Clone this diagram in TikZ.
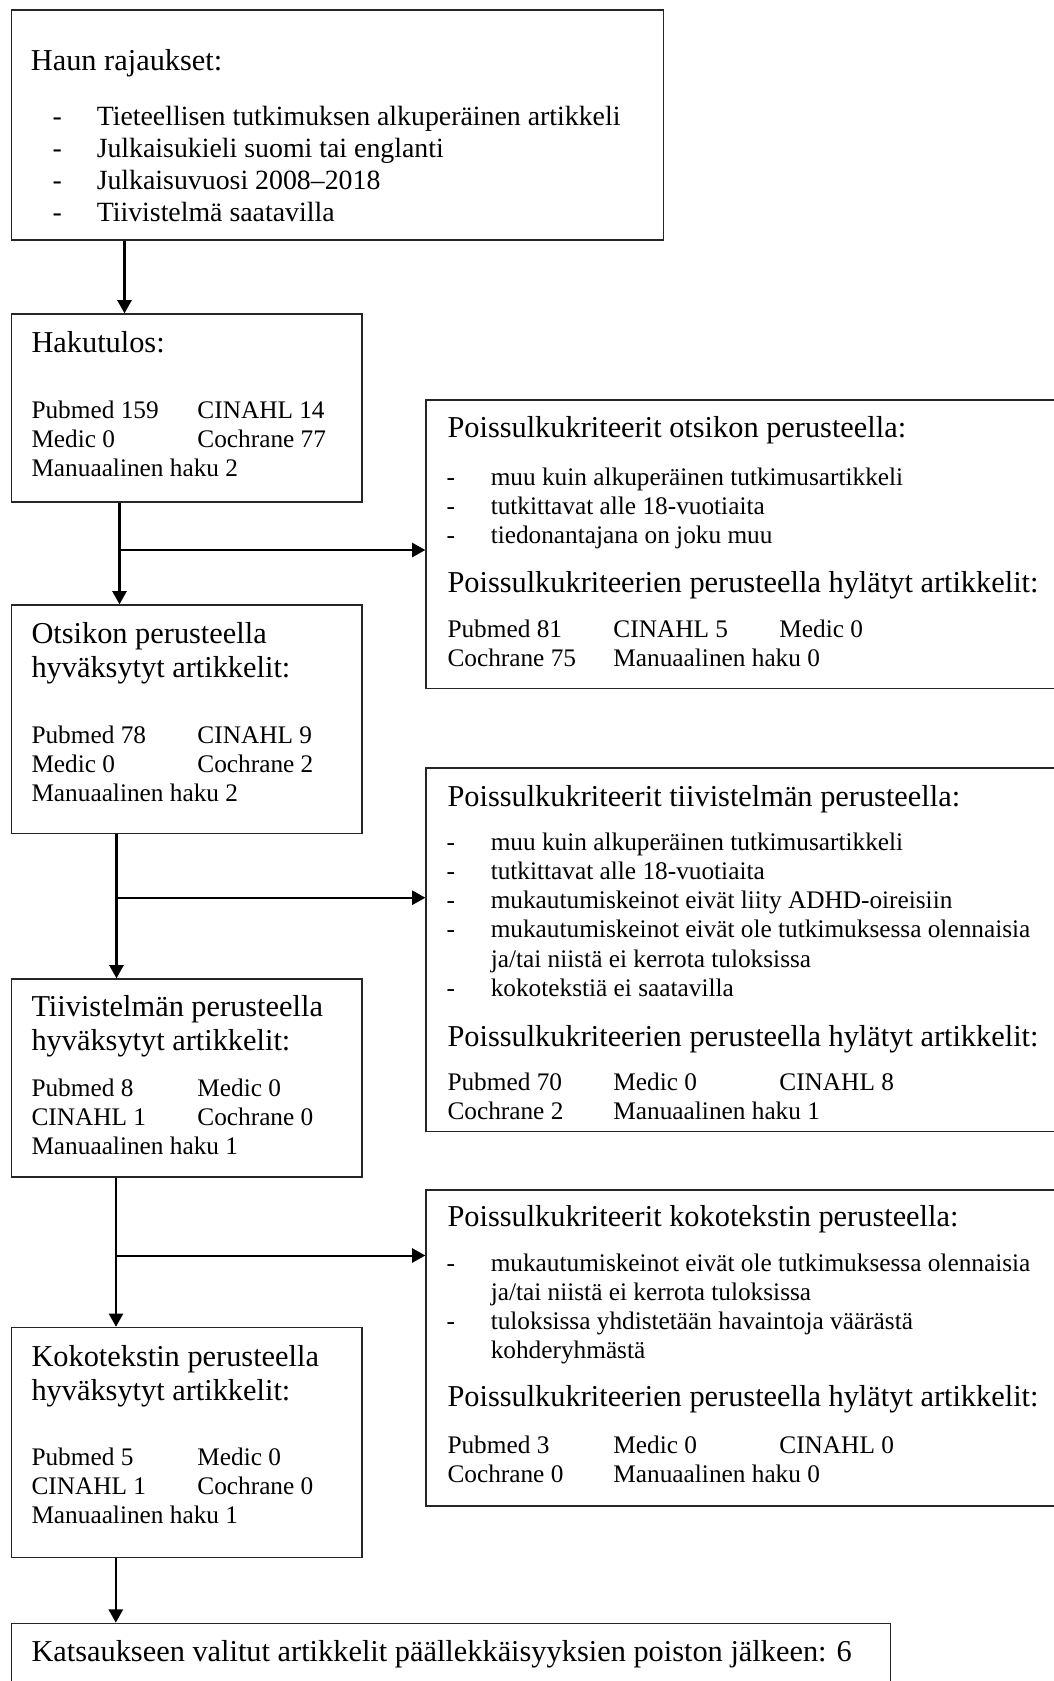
\documentclass[tikz,border=0pt]{standalone}
\usepackage{fontspec}
\setmainfont{Liberation Serif}
\usetikzlibrary{arrows.meta,fit}

\newcommand{\otsfont}{\fontsize{12}{13.5}\selectfont}
\newcommand{\listafont}{\fontsize{11}{12.7}\selectfont}
\newcommand{\datafont}{\fontsize{10}{11.5}\selectfont}
\newcommand{\kohta}[1]{\makebox[17.5pt][l]{-}#1}
\newcommand{\jatko}[1]{\hspace*{17.5pt}#1}
\newcommand{\sarake}[1]{\makebox[65.6pt][l]{#1}}
\newcommand{\rivit}[1]{\begin{tabular}[t]{@{}l@{}}#1\end{tabular}}

\begin{document}
\begin{tikzpicture}[x=0.3953pt, y=-0.3953pt,
        box/.style={draw=black!85, line width=0.55pt, inner sep=0pt},
        txt/.style={inner sep=0pt, anchor=base west},
        arr/.style={line width=0.8pt, -{Triangle[width=5.6pt,length=5.2pt]}}]
    \path[use as bounding box, fill=white] (0,0) rectangle (1054,1681);
    \clip (0,0) rectangle (1054,1681);

    % laatikot
    \node[box, fit={(11.7,10) (663.5,240)}] (haku) {};
    \node[box, fit={(11.7,314) (362,502)}] (tulos) {};
    \node[box, fit={(11.7,605) (362,833.3)}] (otsikko) {};
    \node[box, fit={(11.7,979) (362,1177)}] (tiiv) {};
    \node[box, fit={(11.7,1327.4) (362,1557.7)}] (koko) {};
    \node[box, fit={(11.7,1623.3) (890.5,1720)}] (valitut) {};
    \node[box, fit={(426,400) (1070,688.3)}] (krit1) {};
    \node[box, fit={(426,768) (1070,1131.7)}] (krit2) {};
    \node[box, fit={(426,1190) (1070,1506)}] (krit3) {};

    % vasen sarake
    \node[txt, font=\otsfont] (haku-t) at (30.4,70) {Haun rajaukset:};
    \node[txt, font=\listafont] (haku-l) at (52,125) {\rivit{\kohta{Tieteellisen tutkimuksen alkuperäinen artikkeli}\\
        \kohta{Julkaisukieli suomi tai englanti}\\
        \kohta{Julkaisuvuosi 2008–2018}\\
        \kohta{Tiivistelmä saatavilla}}};

    \node[txt, font=\otsfont] (tulos-t) at (31,352.7) {Hakutulos:};
    \node[txt, font=\datafont] (tulos-d) at (31,418.3) {\rivit{\sarake{Pubmed 159}CINAHL 14\\
        \sarake{Medic 0}Cochrane 77\\
        Manuaalinen haku 2}};

    \node[txt, font=\otsfont] (otsikko-t) at (31,643.3) {\rivit{Otsikon perusteella\\ hyväksytyt artikkelit:}};
    \node[txt, font=\datafont] (otsikko-d) at (31,743.3) {\rivit{\sarake{Pubmed 78}CINAHL 9\\
        \sarake{Medic 0}Cochrane 2\\
        Manuaalinen haku 2}};

    \node[txt, font=\otsfont] (tiiv-t) at (31,1016) {\rivit{Tiivistelmän perusteella\\ hyväksytyt artikkelit:}};
    \node[txt, font=\datafont] (tiiv-d) at (31,1096.7) {\rivit{\sarake{Pubmed 8}Medic 0\\
        \sarake{CINAHL 1}Cochrane 0\\
        Manuaalinen haku 1}};

    \node[txt, font=\otsfont] (koko-t) at (31,1366.7) {\rivit{Kokotekstin perusteella\\ hyväksytyt artikkelit:}};
    \node[txt, font=\datafont] (koko-d) at (31,1465) {\rivit{\sarake{Pubmed 5}Medic 0\\
        \sarake{CINAHL 1}Cochrane 0\\
        Manuaalinen haku 1}};

    \node[txt, font=\otsfont] (valitut-t) at (31,1661.7) {Katsaukseen valitut artikkelit päällekkäisyyksien poiston jälkeen: 6};

    % oikea sarake
    \node[txt, font=\otsfont] (krit1-t) at (447,437) {Poissulkukriteerit otsikon perusteella:};
    \node[txt, font=\datafont] (krit1-l) at (446,485) {\rivit{\kohta{muu kuin alkuperäinen tutkimusartikkeli}\\
        \kohta{tutkittavat alle 18-vuotiaita}\\
        \kohta{tiedonantajana on joku muu}}};
    \node[txt, font=\otsfont] (krit1-h) at (447,592) {Poissulkukriteerien perusteella hylätyt artikkelit:};
    \node[txt, font=\datafont] (krit1-d) at (447,637.3) {\rivit{\sarake{Pubmed 81}\sarake{CINAHL 5}Medic 0\\
        \sarake{Cochrane 75}Manuaalinen haku 0}};

    \node[txt, font=\otsfont] (krit2-t) at (447,806.7) {Poissulkukriteerit tiivistelmän perusteella:};
    \node[txt, font=\datafont] (krit2-l) at (446,850.7) {\rivit{\kohta{muu kuin alkuperäinen tutkimusartikkeli}\\
        \kohta{tutkittavat alle 18-vuotiaita}\\
        \kohta{mukautumiskeinot eivät liity ADHD-oireisiin}\\
        \kohta{mukautumiskeinot eivät ole tutkimuksessa olennaisia}\\
        \jatko{ja/tai niistä ei kerrota tuloksissa}\\
        \kohta{kokotekstiä ei saatavilla}}};
    \node[txt, font=\otsfont] (krit2-h) at (447,1046.7) {Poissulkukriteerien perusteella hylätyt artikkelit:};
    \node[txt, font=\datafont] (krit2-d) at (447,1090) {\rivit{\sarake{Pubmed 70}\sarake{Medic 0}CINAHL 8\\
        \sarake{Cochrane 2}Manuaalinen haku 1}};

    \node[txt, font=\otsfont] (krit3-t) at (447,1226.7) {Poissulkukriteerit kokotekstin perusteella:};
    \node[txt, font=\datafont] (krit3-l) at (446,1271.7) {\rivit{\kohta{mukautumiskeinot eivät ole tutkimuksessa olennaisia}\\
        \jatko{ja/tai niistä ei kerrota tuloksissa}\\
        \kohta{tuloksissa yhdistetään havaintoja väärästä}\\
        \jatko{kohderyhmästä}}};
    \node[txt, font=\otsfont] (krit3-h) at (447,1406) {Poissulkukriteerien perusteella hylätyt artikkelit:};
    \node[txt, font=\datafont] (krit3-d) at (447,1453.3) {\rivit{\sarake{Pubmed 3}\sarake{Medic 0}CINAHL 0\\
        \sarake{Cochrane 0}Manuaalinen haku 0}};

    % nuolet
    \coordinate (v1) at (124.5,275);
    \coordinate (j1) at (119.5,550);
    \coordinate (j2) at (116.5,897.7);
    \coordinate (j3) at (116,1255.5);
    \coordinate (v5) at (115.8,1590);
    \draw[arr] (haku.south -| v1) -- (tulos.north -| v1);
    \draw[arr] (tulos.south -| j1) -- (otsikko.north -| j1);
    \draw[arr] (j1) -- (krit1.west |- j1);
    \draw[arr] (otsikko.south -| j2) -- (tiiv.north -| j2);
    \draw[arr] (j2) -- (krit2.west |- j2);
    \draw[arr] (tiiv.south -| j3) -- (koko.north -| j3);
    \draw[arr] (j3) -- (krit3.west |- j3);
    \draw[arr] (koko.south -| v5) -- (valitut.north -| v5);
\end{tikzpicture}
\end{document}
